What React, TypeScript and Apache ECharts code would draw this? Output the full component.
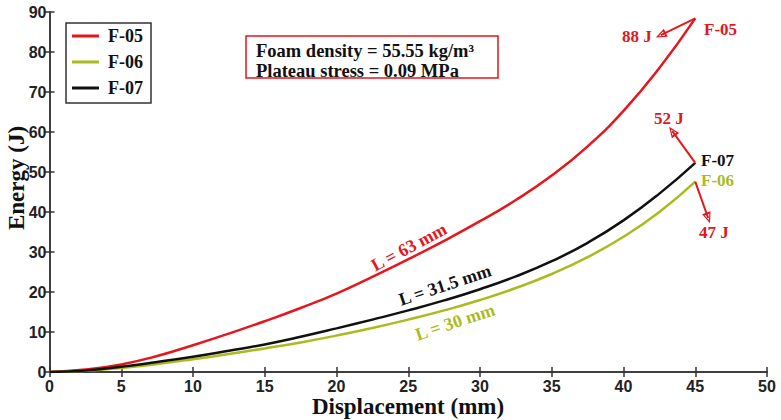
import React, { useEffect, useRef } from "react";
import * as echarts from "echarts";

const xValues = [0, 2.5, 5, 7.5, 10, 12.5, 15, 17.5, 20, 22.5, 25, 27.5, 30, 32.5, 35, 37.5, 40, 42.5, 45];
const f05 = [0, 0.6, 1.9, 4.0, 6.7, 9.6, 12.7, 16.0, 19.6, 23.8, 28.2, 32.8, 37.7, 43.0, 49.1, 56.4, 65.3, 76.0, 88.4];
const f06 = [0, 0.3, 1.0, 2.0, 3.2, 4.5, 5.9, 7.4, 9.1, 11.0, 13.1, 15.4, 18.0, 21.0, 24.5, 28.7, 33.8, 40.0, 47.6];
const f07 = [0, 0.4, 1.3, 2.5, 3.8, 5.3, 6.9, 8.8, 10.9, 13.1, 15.4, 17.9, 20.7, 23.9, 27.7, 32.3, 37.9, 44.6, 52.3];
const seriesNames = ["F-05", "F-06", "F-07"];
const xTicks = { min: 0, max: 50, interval: 5 };
const yTicks = { min: 0, max: 90, interval: 10 };
const xTitle = "Displacement (mm)";
const yTitle = "Energy (J)";
// arrow annotations in data coords: [from, to]
const arrows = [
  [[45, 88.4], [42.6, 84.2]],
  [[45, 52.3], [43.4, 60.2]],
  [[45, 47.6], [45.9, 38.5]],
];

const RED = "#e5161c";
const GREEN = "#abbb1f";
const BLACK = "#111111";
const SERIF = "'Liberation Serif', 'Times New Roman', serif";
const SANS = "'Liberation Sans', Arial, sans-serif";

const arrowHead = "path://M0,0 L10,20 L-10,20 Z M0,6 L-5.5,16.5 L5.5,16.5 Z";

export default function App() {
  const ref = useRef<HTMLDivElement>(null);
  useEffect(() => {
    if (!ref.current) return;
    const chart = echarts.init(ref.current, null, { renderer: "svg" });
    const mk = (vals: number[]) => xValues.map((x, i) => [x, vals[i]]);
    const axisLine = { show: true, lineStyle: { color: "#333", width: 1.5 } };
    const tick = { show: true, inside: true, length: 5, lineStyle: { color: "#333", width: 1.5 } };
    const txt = (text: string, x: number, y: number, color: string, extra: any = {}) => ({
      type: "text",
      x,
      y,
      silent: true,
      rotation: extra.rotation || 0,
      style: {
        text,
        fill: color,
        font: `bold ${extra.size || 17}px ${SERIF}`,
        align: extra.align || "left",
        verticalAlign: "middle",
      },
    });
    chart.setOption({
      animation: false,
      backgroundColor: "#fff",
      grid: { left: 49.5, right: 14, top: 12, bottom: 48, containLabel: false, outerBoundsMode: "none" },
      legend: {
        data: seriesNames,
        orient: "vertical",
        left: 66,
        top: 23,
        icon: "rect",
        itemWidth: 27,
        itemHeight: 3,
        itemGap: 8,
        padding: [4, 8, 6, 6],
        borderColor: "#333",
        borderWidth: 1.5,
        backgroundColor: "#fff",
        textStyle: {
          fontFamily: SERIF,
          fontWeight: "bold",
          fontSize: 18,
          lineHeight: 16,
          color: "#111",
          padding: [0, 0, 0, 4],
        },
      },
      xAxis: [
        {
          type: "value",
          ...xTicks,
          axisLine,
          axisTick: tick,
          axisLabel: { fontFamily: SANS, fontWeight: "bold", fontSize: 16, color: "#222", margin: 6 },
          splitLine: { show: false },
        },
        {
          type: "value",
          ...xTicks,
          position: "top",
          axisLine,
          axisTick: tick,
          axisLabel: { show: false },
          splitLine: { show: false },
        },
      ],
      yAxis: [
        {
          type: "value",
          ...yTicks,
          axisLine,
          axisTick: tick,
          axisLabel: { fontFamily: SANS, fontWeight: "bold", fontSize: 16, color: "#222", margin: 3 },
          splitLine: { show: false },
        },
        {
          type: "value",
          ...yTicks,
          position: "right",
          axisLine,
          axisTick: tick,
          axisLabel: { show: false },
          splitLine: { show: false },
        },
      ],
      series: [
        {
          name: "F-05",
          type: "line",
          data: mk(f05),
          smooth: true,
          showSymbol: false,
          lineStyle: { color: RED, width: 2.5 },
          itemStyle: { color: RED },
          z: 3,
          markLine: {
            silent: true,
            symbol: ["none", arrowHead],
            symbolSize: [9, 11],
            label: { show: false },
            lineStyle: { color: RED, width: 2, type: "solid" },
            emphasis: { disabled: true },
            data: arrows.map((a) => [{ coord: a[0] }, { coord: a[1] }]),
          },
        },
        {
          name: "F-06",
          type: "line",
          data: mk(f06),
          smooth: true,
          showSymbol: false,
          lineStyle: { color: GREEN, width: 2.5 },
          itemStyle: { color: GREEN },
        },
        {
          name: "F-07",
          type: "line",
          data: mk(f07),
          smooth: true,
          showSymbol: false,
          lineStyle: { color: BLACK, width: 2.5 },
          itemStyle: { color: BLACK },
        },
      ],
      graphic: [
        txt(yTitle, 16, 178, "#111", { align: "center", rotation: Math.PI / 2, size: 23 }),
        txt(xTitle, 408, 406, "#111", { align: "center", size: 23 }),
        {
          type: "rect",
          shape: { x: 246, y: 36, width: 252, height: 42 },
          style: { fill: "#fff", stroke: RED, lineWidth: 1.5 },
          silent: true,
        },
        txt("Foam density = 55.55 kg/m³", 256, 51, "#111", { size: 18.5 }),
        txt("Plateau stress = 0.09 MPa", 256, 71, "#111", { size: 18.5 }),
        txt("F-05", 704, 29, RED),
        txt("88 J", 622, 36, RED),
        txt("52 J", 654, 118, RED),
        txt("F-07", 701, 160, BLACK),
        txt("F-06", 701, 180, GREEN),
        txt("47 J", 699, 232, RED),
        txt("L = 63 mm", 409, 247, RED, { align: "center", rotation: 0.49, size: 18 }),
        txt("L = 31.5 mm", 445, 285, BLACK, { align: "center", rotation: 0.32, size: 18 }),
        txt("L = 30 mm", 455, 322, GREEN, { align: "center", rotation: 0.32, size: 18 }),
      ],
    });
    return () => chart.dispose();
  }, []);
  return <div ref={ref} style={{ position: "absolute", left: 0, top: 0, width: 781, height: 420 }} />;
}
